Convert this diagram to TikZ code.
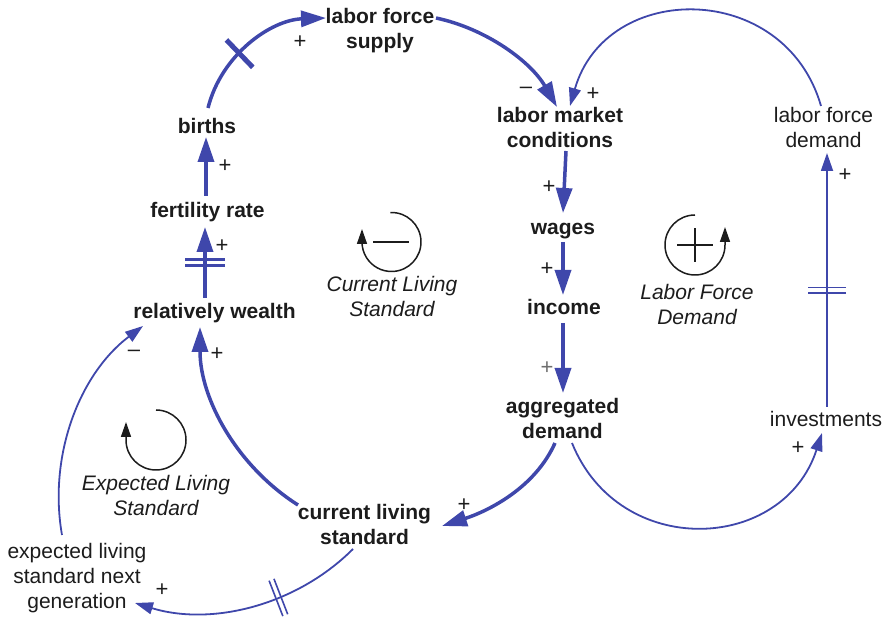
\documentclass[tikz,border=0pt]{standalone}
\usepackage{fontspec}
\setmainfont{Liberation Sans}
\usetikzlibrary{arrows.meta,decorations.markings}
\definecolor{cldblue}{RGB}{63,71,171}
\definecolor{txt}{RGB}{28,28,28}
\definecolor{graysign}{RGB}{110,110,110}
\begin{document}
\begin{tikzpicture}[x=1pt,y=1pt,
  lbl/.style={inner sep=1pt, align=center, text=txt, font=\fontsize{21}{25}\selectfont},
  var/.style={lbl, font=\fontsize{21}{25}\selectfont\bfseries},
  looplbl/.style={lbl, font=\fontsize{21}{25}\selectfont\itshape},
  sign/.style={inner sep=0pt, text=txt, font=\fontsize{22}{26}\selectfont},
  thickarr/.style={draw=cldblue, line width=3.5pt, -{Triangle[length=25pt,width=16pt]}},
  thinarr/.style={draw=cldblue, line width=1.8pt, -{Triangle[length=18pt,width=12pt]}},
  loopline/.style={draw=txt, line width=1.5pt},
  looparr/.style={loopline, -{Triangle[length=15pt,width=10pt]}},
  delaysingle/.style={postaction={decorate,decoration={markings,
     mark=at position #1 with {\draw[cldblue,line width=5pt,arrows=-] (0,-19pt) -- (0,19pt);}}}},
  delaythick/.style={postaction={decorate,decoration={markings,
     mark=at position #1 with {\draw[cldblue,line width=2.6pt,arrows=-] (-3pt,-20pt) -- (-3pt,20pt) (3pt,-20pt) -- (3pt,20pt);}}}},
  delaythin/.style={postaction={decorate,decoration={markings,
     mark=at position #1 with {\draw[cldblue,line width=1.6pt,arrows=-] (-2.6pt,-19pt) -- (-2.6pt,19pt) (2.6pt,-19pt) -- (2.6pt,19pt);}}}}
]
\useasboundingbox (0,0) rectangle (887,618);

% variables
\node[var] (lfs) at (380,587.5) {labor force\\supply};
\node[var] (births) at (207,492) {births};
\node[var] (fert) at (207.5,406) {fertility rate};
\node[var] (rw) at (214.5,305) {relatively wealth};
\node[var] (lmc) at (560,490) {labor market\\conditions};
\node[var] (wages) at (563,387) {wages};
\node[var] (income) at (564,310.5) {income};
\node[var] (agg) at (562.5,200) {aggregated\\demand};
\node[var] (cls) at (364.5,94) {current living\\standard};
\node[lbl] (elsn) at (77,40) {expected living\\standard next\\generation};
\node[lbl] (lfd) at (823.5,490) {labor force\\demand};
\node[lbl] (inv) at (826,199.5) {investments};

% loop labels
\node[looplbl] (lcls) at (392,321.5) {Current Living\\Standard};
\node[looplbl] (llfd) at (697,313) {Labor Force\\Demand};
\node[looplbl] (lels) at (156,122) {Expected Living\\Standard};

% connectors
\draw[thickarr, delaysingle=0.4] ([shift={(1,18)}]births.center) .. controls +(76:55pt) and +(182:55pt) .. ([shift={(-54,12.5)}]lfs.center);
\draw[thickarr] ([shift={(56,12.5)}]lfs.center) .. controls +(-12:52pt) and +(120:52pt) .. ([shift={(-3,21)}]lmc.center);
\draw[thinarr] ([shift={(-2.5,22)}]lfd.center) .. controls +(106:131pt) and +(74:131pt) .. ([shift={(10,22)}]lmc.center);
\draw[thickarr] ([shift={(6,-23)}]lmc.center) -- ([shift={(0,18)}]wages.center);
\draw[thickarr] ([shift={(0,-11)}]wages.center) -- ([shift={(-1,12.5)}]income.center);
\draw[thickarr] ([shift={(-1,-15.5)}]income.center) -- ([shift={(0.5,25)}]agg.center);
\draw[thickarr] ([shift={(-7.5,-25)}]agg.center) .. controls +(246:49pt) and +(18:49pt) .. ([shift={(77.5,-2)}]cls.center);
\draw[thickarr] ([shift={(-66.5,19)}]cls.center) .. controls +(147.6:72pt) and +(270:72pt) .. ([shift={(-14.5,-14)}]rw.center);
\draw[thickarr, delaythick=0.5] ([shift={(-9.5,15)}]rw.center) -- ([shift={(-2.5,-15)}]fert.center);
\draw[thickarr] ([shift={(-1.5,16)}]fert.center) -- ([shift={(-1,-11)}]births.center);
\draw[thinarr] ([shift={(-15,43)}]elsn.center) .. controls +(100:80pt) and +(217:80pt) .. ([shift={(-71.5,-13)}]rw.center);
\draw[thinarr, delaythin=0.38] ([shift={(-11.5,-25)}]cls.center) .. controls +(225:80pt) and +(343:80pt) .. ([shift={(58,-25)}]elsn.center);
\draw[thinarr] ([shift={(9.5,-25)}]agg.center) .. controls +(292:126pt) and +(252:126pt) .. ([shift={(-4,-14.5)}]inv.center);
\draw[thinarr, delaythin=0.46] ([shift={(1,11.5)}]inv.center) -- ([shift={(3.5,-25)}]lfd.center);

% polarity signs
\node[sign] (s1) at (300,576) {+};
\node[sign] (s2) at (526,528) {–};
\node[sign] (s3) at (593,524) {+};
\node[sign] (s4) at (549,431) {+};
\node[sign] (s5) at (547,349) {+};
\node[sign, text=graysign] (s6) at (547,250) {+};
\node[sign] (s7) at (464,113) {+};
\node[sign] (s8) at (217,264) {+};
\node[sign] (s9) at (222,372) {+};
\node[sign] (s10) at (225,452) {+};
\node[sign] (s11) at (134,265) {–};
\node[sign] (s12) at (162,28) {+};
\node[sign] (s13) at (798,170) {+};
\node[sign] (s14) at (845,443) {+};

% loop symbols
\draw[looparr] (391.5,376) ++(92:29.5) arc[start angle=92, end angle=-180, radius=29.5] -- ++(0,13);
\draw[loopline] (373,376) -- (409,376);

\draw[looparr] (695,373) ++(90:30) arc[start angle=90, end angle=360, radius=30] -- ++(0,18);
\draw[loopline] (677,373) -- (713,373) (695,356) -- (695,390);

\draw[looparr] (156,178) ++(90:30) arc[start angle=90, end angle=-180, radius=30] -- ++(0,18);
\end{tikzpicture}
\end{document}
